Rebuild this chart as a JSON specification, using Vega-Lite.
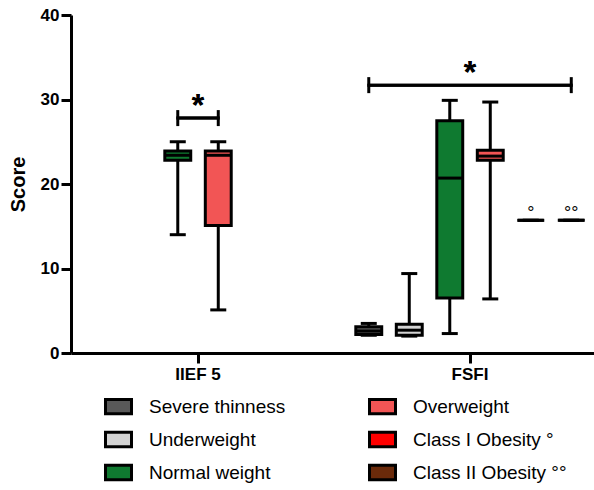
{
  "$schema": "https://vega.github.io/schema/vega-lite/v6.json",
  "width": 523,
  "height": 338,
  "autosize": "none",
  "padding": {"left": 71, "top": 15, "right": 0, "bottom": 137},
  "config": {
    "view": {"stroke": null},
    "font": "Liberation Sans",
    "axis": {
      "domainColor": "black", "domainWidth": 3, "tickColor": "black", "tickWidth": 3, "tickSize": 10,
      "labelColor": "black", "labelFont": "Liberation Sans", "labelFontWeight": "bold", "labelFontSize": 17,
      "titleColor": "black", "titleFont": "Liberation Sans", "titleFontWeight": "bold", "titleFontSize": 20, "grid": false
    }
  },
  "datasets": {
    "boxes": [
      {"category": "IIEF 5", "group": "Normal weight", "min": 14.0, "q1": 22.8, "median": 23.4, "q3": 23.9, "max": 25.0},
      {"category": "IIEF 5", "group": "Overweight", "min": 5.1, "q1": 15.1, "median": 23.4, "q3": 23.9, "max": 25.0},
      {"category": "FSFI", "group": "Severe thinness", "min": 2.1, "q1": 2.2, "median": 2.6, "q3": 3.1, "max": 3.5},
      {"category": "FSFI", "group": "Underweight", "min": 2.0, "q1": 2.1, "median": 2.7, "q3": 3.4, "max": 9.4},
      {"category": "FSFI", "group": "Normal weight", "min": 2.3, "q1": 6.5, "median": 20.7, "q3": 27.5, "max": 29.9},
      {"category": "FSFI", "group": "Overweight", "min": 6.4, "q1": 22.8, "median": 23.3, "q3": 24.0, "max": 29.7},
      {"category": "FSFI", "group": "Class I Obesity °", "min": 15.7, "q1": 15.7, "median": 15.7, "q3": 15.7, "max": 15.7, "note": "°"},
      {"category": "FSFI", "group": "Class II Obesity °°", "min": 15.7, "q1": 15.7, "median": 15.7, "q3": 15.7, "max": 15.7, "note": "°°"}
    ],
    "brackets": [
      {"category": "IIEF 5", "end": "Normal weight", "level": 27.8, "label": "*"},
      {"category": "IIEF 5", "end": "Overweight", "level": 27.8, "label": "*"},
      {"category": "FSFI", "end": "Severe thinness", "level": 31.7, "label": "*"},
      {"category": "FSFI", "end": "Class II Obesity °°", "level": 31.7, "label": "*"}
    ]
  },
  "encoding": {
    "x": {
      "field": "category", "type": "nominal",
      "scale": {"domain": ["IIEF 5", "FSFI"], "paddingInner": 0.1066, "paddingOuter": 0.0147, "align": 0.69},
      "axis": {"title": null, "labelAngle": 0, "labelPadding": 3}
    },
    "y": {
      "type": "quantitative",
      "scale": {"domain": [0, 40], "nice": false},
      "axis": {"title": "Score", "values": [0, 10, 20, 30, 40], "titlePadding": 12, "labelPadding": 2}
    }
  },
  "layer": [
    {
      "data": {"name": "boxes"},
      "mark": {"type": "rule", "color": "black", "strokeWidth": 3},
      "encoding": {
        "xOffset": {"field": "group", "type": "nominal", "scale": {"domain": ["Severe thinness", "Underweight", "Normal weight", "Overweight", "Class I Obesity °", "Class II Obesity °°"], "paddingInner": 0.36, "paddingOuter": 0.18}},
        "y": {"field": "min", "type": "quantitative"},
        "y2": {"field": "max"}
      }
    },
    {
      "data": {"name": "boxes"},
      "mark": {"type": "tick", "color": "black", "size": 16, "thickness": 3, "opacity": 1},
      "encoding": {
        "xOffset": {"field": "group", "type": "nominal"},
        "y": {"field": "min", "type": "quantitative"}
      }
    },
    {
      "data": {"name": "boxes"},
      "mark": {"type": "tick", "color": "black", "size": 16, "thickness": 3, "opacity": 1},
      "encoding": {
        "xOffset": {"field": "group", "type": "nominal"},
        "y": {"field": "max", "type": "quantitative"}
      }
    },
    {
      "data": {"name": "boxes"},
      "mark": {"type": "bar", "stroke": "black", "strokeWidth": 3, "opacity": 1},
      "encoding": {
        "xOffset": {"field": "group", "type": "nominal"},
        "y": {"field": "q1", "type": "quantitative"},
        "y2": {"field": "q3"},
        "fill": {
          "field": "group", "type": "nominal",
          "scale": {
            "domain": ["Severe thinness", "Underweight", "Normal weight", "Overweight", "Class I Obesity °", "Class II Obesity °°"],
            "range": ["#595959", "#d3d3d3", "#0f7a30", "#f25555", "#ff0000", "#6a2a0a"]
          },
          "legend": {
            "title": null, "orient": "none", "legendX": 33, "legendY": 377, "columns": 2, "columnPadding": 77, "rowPadding": 5,
            "symbolType": "M-1,-0.55H1V0.55H-1Z", "symbolSize": 676, "symbolStrokeColor": "black", "symbolStrokeWidth": 3, "symbolOpacity": 1,
            "labelFontSize": 19, "labelFont": "Liberation Sans", "labelColor": "black", "labelOffset": 16, "labelLimit": 300
          }
        }
      }
    },
    {
      "data": {"name": "boxes"},
      "mark": {"type": "tick", "color": "black", "size": 27, "thickness": 3, "opacity": 1},
      "encoding": {
        "xOffset": {"field": "group", "type": "nominal"},
        "y": {"field": "median", "type": "quantitative"}
      }
    },
    {
      "data": {"name": "boxes"},
      "transform": [{"filter": "isValid(datum.note)"}],
      "mark": {"type": "text", "color": "black", "fontSize": 18, "dy": -6},
      "encoding": {
        "xOffset": {"field": "group", "type": "nominal"},
        "y": {"field": "median", "type": "quantitative"},
        "text": {"field": "note"}
      }
    },
    {
      "data": {"name": "brackets"},
      "mark": {"type": "tick", "orient": "vertical", "color": "black", "size": 16, "thickness": 3, "opacity": 1},
      "encoding": {
        "xOffset": {"field": "end", "type": "nominal"},
        "y": {"field": "level", "type": "quantitative"}
      }
    },
    {
      "data": {"name": "brackets"},
      "transform": [{"filter": "datum.category === 'IIEF 5'"}],
      "mark": {"type": "tick", "color": "black", "size": 43, "thickness": 3, "opacity": 1},
      "encoding": {
        "y": {"field": "level", "type": "quantitative"}
      }
    },
    {
      "data": {"name": "brackets"},
      "transform": [{"filter": "datum.category === 'FSFI'"}],
      "mark": {"type": "tick", "color": "black", "size": 205, "thickness": 3, "opacity": 1},
      "encoding": {
        "y": {"field": "level", "type": "quantitative"}
      }
    },
    {
      "data": {"name": "brackets"},
      "mark": {"type": "text", "color": "black", "fontSize": 32, "fontWeight": "bold", "baseline": "alphabetic", "dy": -2},
      "encoding": {
        "y": {"field": "level", "type": "quantitative"},
        "text": {"field": "label"}
      }
    }
  ]
}
